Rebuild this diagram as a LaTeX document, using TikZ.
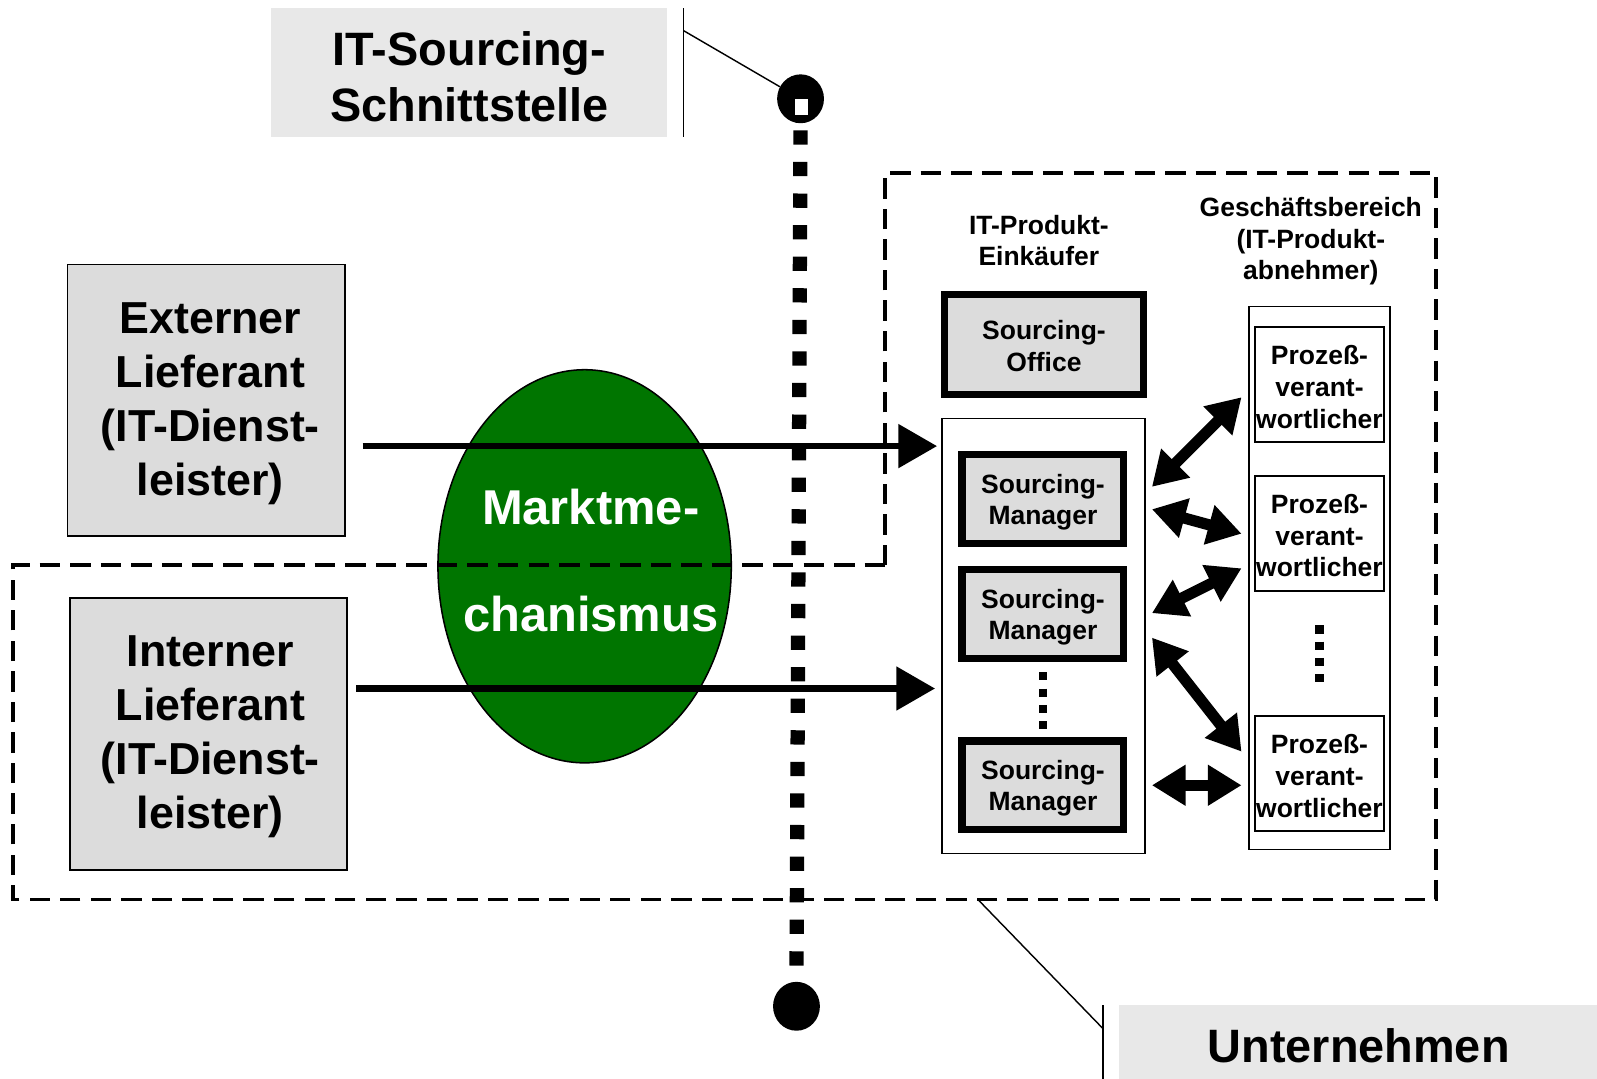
\documentclass[tikz,border=0pt]{standalone}
\usepackage{fontspec}
\setmainfont{Liberation Sans}
\usetikzlibrary{arrows.meta,shapes.geometric}
\definecolor{boxgray}{RGB}{220,220,220}
\definecolor{lblgray}{RGB}{232,232,232}
\definecolor{mgreen}{RGB}{0,117,0}
\begin{document}
\begin{tikzpicture}[x=1pt,y=-1pt,
  every node/.style={inner sep=0pt, outer sep=0pt},
  hugefont/.style={font=\bfseries\fontsize{46}{55}\selectfont},
  bigfont/.style={font=\bfseries\fontsize{44}{53}\selectfont},
  smallfont/.style={font=\bfseries\fontsize{26}{31}\selectfont},
  supplier/.style={draw, line width=1.5pt, fill=boxgray, minimum width=272pt, minimum height=267pt},
  suptext/.style={align=center, bigfont},
  thickbox/.style={draw, line width=7pt, fill=boxgray, minimum width=159pt},
  boxtext/.style={align=center, smallfont},
  plainbox/.style={draw, line width=1.6pt, fill=white},
  probox/.style={draw, line width=2pt, fill=white, minimum width=127pt, minimum height=113pt},
  thinline/.style={line width=1.4pt},
  zone/.style={line width=3.5pt, dash pattern=on 20pt off 10pt},
  bigarrow/.style={line width=6pt, -{Triangle[length=38pt,width=42pt]}},
  dblarrow/.style={line width=11pt, {Triangle[length=33pt,width=38pt]}-{Triangle[length=33pt,width=38pt]}},
  dotcol/.style={line width=8pt, dash pattern=on 8pt off 8pt},
  interface/.style={line width=14pt, dash pattern=on 14pt off 17pt, dash phase=24pt},
  bigdot/.style={ellipse, fill=black, minimum width=46pt, minimum height=48pt}
]
\useasboundingbox (0,0) rectangle (1568,1059);

% label IT-Sourcing-Schnittstelle
\node[fill=lblgray, minimum width=389pt, minimum height=127pt] (itbox) at (460.5,71.5) {};
\node[hugefont, align=center] (ittext) at (461,75) {IT-Sourcing-\\Schnittstelle};
\coordinate (tl1) at (671,8);
\coordinate (tl2) at (671,135);
\coordinate (tk) at (671,30);

% label Unternehmen
\node[fill=lblgray, minimum width=469pt, minimum height=72pt] (ubox) at (1333.5,1023) {};
\node[hugefont] (utext) at (1334,1027) {Unternehmen};
\coordinate (bl1) at (1083,987);
\coordinate (bl2) at (1083,1059);
\coordinate (bk2) at (1083,1010);
\coordinate (bk) at (960,883);

% market mechanism ellipse
\node[ellipse, draw, line width=1.5pt, fill=mgreen, minimum width=288pt, minimum height=386pt] (mm) at (574,556) {};

% zones
\draw[zone] (869,555) -- (869,170) -- (1410,170) -- (1410,883) -- (13,883) -- (13,555) -- cycle;

% suppliers
\node[supplier] (ext) at (202.5,393) {};
\node[suptext] (extt) at (206.5,396) {Externer\\Lieferant\\(IT-Dienst-\\leister)};
\node[supplier] (int) at (204.5,720.5) {};
\node[suptext] (intt) at (206.5,723.5) {Interner\\Lieferant\\(IT-Dienst-\\leister)};

% purchasing side
\node[boxtext] (einkl) at (1020,236) {IT-Produkt-\\Einkäufer};
\node[thickbox, minimum width=195pt, minimum height=98pt] (office) at (1025,338.5) {};
\node[boxtext] (officet) at (1025,340) {Sourcing-\\Office};
\node[plainbox, minimum width=199pt, minimum height=427pt] (lbox) at (1024.5,624.5) {};
\node[thickbox, minimum height=87pt] (sm1) at (1024,490) {};
\node[boxtext] (sm1t) at (1024,493) {Sourcing-\\Manager};
\node[thickbox, minimum height=87pt] (sm2) at (1024,603) {};
\node[boxtext] (sm2t) at (1024,606) {Sourcing-\\Manager};
\node[thickbox, minimum height=87pt] (sm3) at (1024,771) {};
\node[boxtext] (sm3t) at (1024,774) {Sourcing-\\Manager};
\draw[dotcol] (sm2.south |- 0,660) -- (sm2.south |- 0,716);

% business side
\node[boxtext] (gbl) at (1287,237) {Geschäftsbereich\\(IT-Produkt-\\abnehmer)};
\node[plainbox, minimum width=139pt, minimum height=533pt] (rbox) at (1295.5,567.5) {};
\node[probox] (p1) at (1295.5,377.5) {};
\node[boxtext] (p1t) at (1295.5,380) {Prozeß-\\verant-\\wortlicher};
\node[probox] (p2) at (1295.5,523.5) {};
\node[boxtext] (p2t) at (1295.5,526) {Prozeß-\\verant-\\wortlicher};
\node[probox] (p3) at (1295.5,759.5) {};
\node[boxtext] (p3t) at (1295.5,762) {Prozeß-\\verant-\\wortlicher};
\draw[dotcol] (p2.south |- 0,614) -- (p2.south |- 0,670);

% supply arrows
\coordinate (a1s) at (356,438);
\coordinate (a1e) at (920,438);
\coordinate (a2s) at (350,676);
\coordinate (a2e) at (918,676);
\draw[bigarrow] (a1s) -- (a1e);
\draw[bigarrow] (a2s) -- (a2e);

% double arrows
\coordinate (d1a) at (1131,478); \coordinate (d1b) at (1219,390);
\coordinate (d2a) at (1131,500); \coordinate (d2b) at (1219,524);
\coordinate (d3a) at (1131,602); \coordinate (d3b) at (1219,558);
\coordinate (d4a) at (1131,626); \coordinate (d4b) at (1219,738);
\coordinate (d5a) at (1131,771); \coordinate (d5b) at (1219,771);
\draw[dblarrow] (d1a) -- (d1b);
\draw[dblarrow] (d2a) -- (d2b);
\draw[dblarrow] (d3a) -- (d3b);
\draw[dblarrow] (d4a) -- (d4b);
\draw[dblarrow] (d5a) -- (d5b);

% interface line
\node[bigdot] (topdot) at (786,97) {};
\node[fill=white, minimum width=12pt, minimum height=15pt] (topsq) at (787,105) {};
\node[bigdot] (botdot) at (782,988) {};
\draw[interface] (topdot.south) -- (botdot.north);

% market text
\node[font=\bfseries\fontsize{48}{105}\selectfont, text=white, align=center] (mmtext) at (580,550) {Marktme-\\chanismus};

% label connectors
\draw[thinline] (tl1) -- (tl2);
\draw[thinline] (tk) -- (topdot);
\draw[thinline] (bl1) -- (bl2);
\draw[thinline] (bk) -- (bk2);
\end{tikzpicture}
\end{document}
